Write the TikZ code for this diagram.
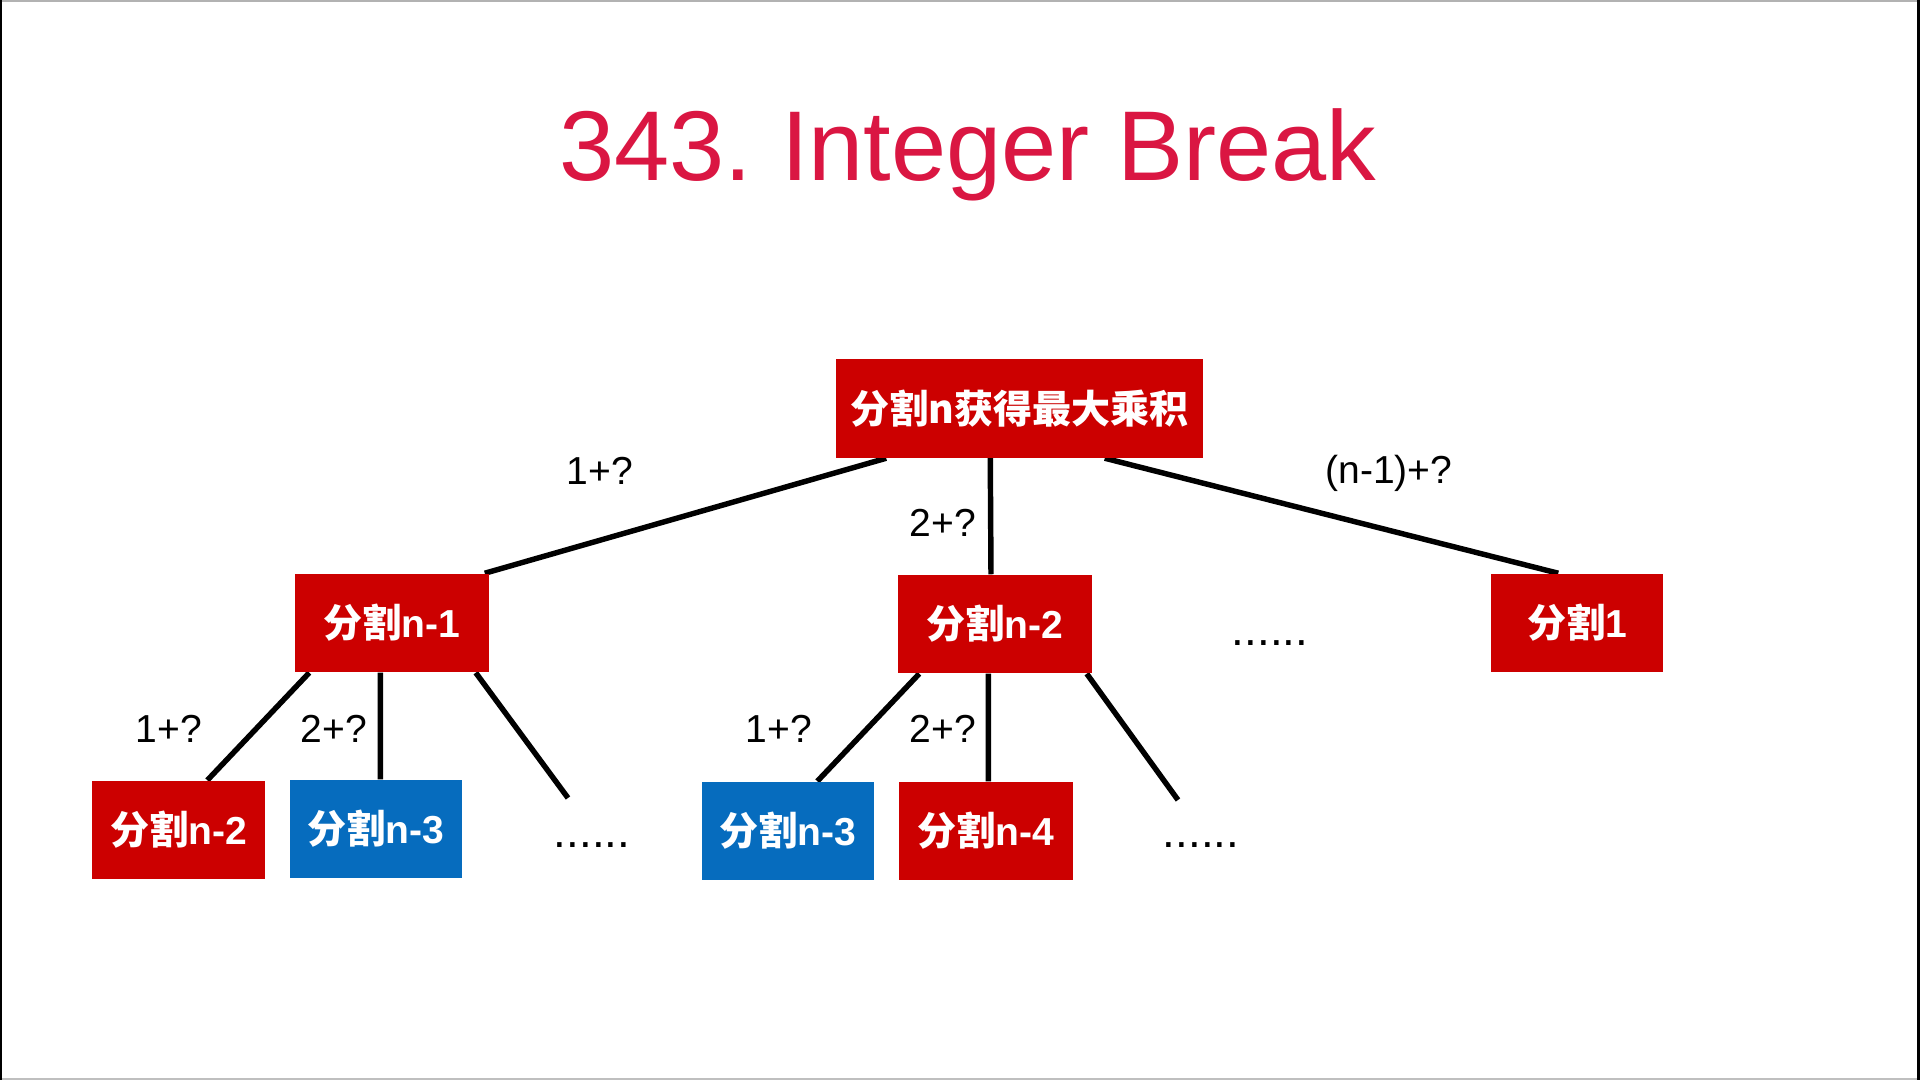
\documentclass[tikz,border=0pt]{standalone}
\usepackage{fontspec}
\setmainfont{Liberation Sans}
\newfontfamily\cjk{Noto Sans CJK SC}
\usetikzlibrary{backgrounds}
\definecolor{boxred}{RGB}{204,0,0}
\definecolor{boxblue}{RGB}{6,108,190}
\definecolor{titlered}{RGB}{218,22,66}
\tikzset{
  box/.style={fill=boxred, text=white, inner sep=0pt, minimum height=0.98cm,
    font=\fontsize{11.1}{13}\selectfont\bfseries},
  bluebox/.style={box, fill=boxblue},
  edge/.style={line width=1.55pt, black},
  lbl/.style={inner sep=0pt, font=\fontsize{11.1}{13}\selectfont},
  dotsl/.style={inner sep=0pt, anchor=base, font=\fontsize{13}{15}\selectfont}
}
\newcommand{\fg}{{\cjk\bfseries 分割}}
\begin{document}
\begin{tikzpicture}[x=0.01cm, y=-0.01cm]
\useasboundingbox (0,0) rectangle (1920,1080);
% screen frame
\fill[gray!60] (0,0) rectangle (1920,2);
\fill[gray!50] (0,1078) rectangle (1920,1080);
\fill[black] (0,0) rectangle (2,1080);
\fill[black] (1917,0) rectangle (1920,1080);

\node[anchor=base, inner sep=0pt, text=titlered, font=\fontsize{28.2}{34}\selectfont] (title) at (968,181) {343.\hspace{-0.08em} Integer Break};

\node[box, minimum width=3.67cm] (root) at (1019.5,408.5) {{\cjk\bfseries 分割n获得最大乘积}};
\node[box, minimum width=1.94cm] (n1) at (392,623) {\fg n-1};
\node[box, minimum width=1.94cm] (n2) at (995,624) {\fg n-2};
\node[box, minimum width=1.72cm] (s1) at (1577,623) {\fg 1};
\node[box, minimum width=1.73cm] (b1) at (178.5,830) {\fg n-2};
\node[bluebox, minimum width=1.72cm] (b2) at (376,829) {\fg n-3};
\node[bluebox, minimum width=1.72cm] (c1) at (788,831) {\fg n-3};
\node[box, minimum width=1.74cm] (c2) at (986,831) {\fg n-4};

\coordinate (e1) at (568,798);
\coordinate (e2) at (1178,800);

\begin{scope}[on background layer]
\draw[edge] ([xshift=0.51cm]root.south west) -- ([xshift=-0.05cm]n1.north east);
\draw[edge] ([xshift=1.55cm]root.south west) -- ([xshift=-0.04cm]n2.north);
\draw[edge] ([xshift=-0.99cm]root.south east) -- ([xshift=0.68cm]s1.north west);
\draw[edge] ([xshift=0.15cm]n1.south west) -- ([xshift=1.16cm]b1.north west);
\draw[edge] ([xshift=0.86cm]n1.south west) -- ([xshift=0.91cm]b2.north west);
\draw[edge] ([xshift=-0.14cm]n1.south east) -- (e1);
\draw[edge] ([xshift=0.22cm]n2.south west) -- ([xshift=1.16cm]c1.north west);
\draw[edge] ([xshift=0.91cm]n2.south west) -- ([xshift=0.90cm]c2.north west);
\draw[edge] ([xshift=-0.06cm]n2.south east) -- (e2);
\end{scope}

\node[lbl] (l1) at (600,471) {1+?};
\node[lbl] (l2) at (943,523) {2+?};
\node[lbl] (l3) at (1389,473) {(n-1)+?};
\node[lbl] (l4) at (169,729) {1+?};
\node[lbl] (l5) at (334,729) {2+?};
\node[lbl] (l6) at (779,729) {1+?};
\node[lbl] (l7) at (943,729) {2+?};

\node[dotsl] (d1) at (1270,646) {......};
\node[dotsl] (d2) at (592,848) {......};
\node[dotsl] (d3) at (1201,848) {......};
\end{tikzpicture}
\end{document}
